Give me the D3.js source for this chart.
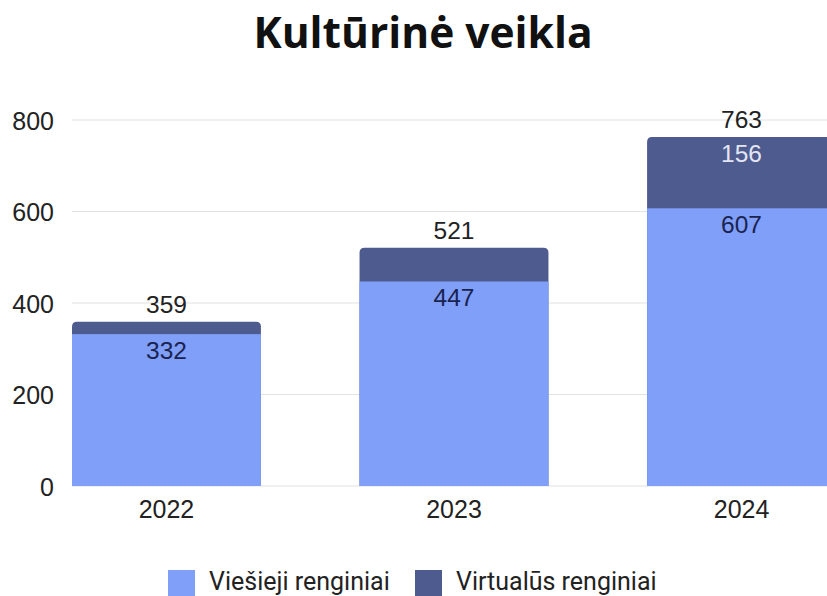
<!DOCTYPE html>
<html>
<head>
<meta charset="utf-8">
<script src="https://cdn.jsdelivr.net/npm/d3@7"></script>
<style>
  body { margin: 0; background: #fff; }
  svg { display: block; }
</style>
</head>
<body>
<svg id="chart" width="827" height="596"></svg>
<script>
// data
var years = ["2022", "2023", "2024"];
var viesieji = [332, 447, 607];
var virtualus = [27, 74, 156];
var yTicks = [0, 200, 400, 600, 800];
var seriesNames = ["Viešieji renginiai", "Virtualūs renginiai"];
var seriesColors = ["#7f9ff9", "#4d5b8e"];

var svg = d3.select("#chart");
var width = +svg.attr("width");
var height = +svg.attr("height");
var margin = { top: 120, left: 72, bottom: 110 };

var rows = years.map(function (y, i) {
  return { year: y, a: viesieji[i], b: virtualus[i], total: viesieji[i] + virtualus[i] };
});

// scales
var x = d3.scaleBand()
  .domain(years)
  .range([margin.left, 836])
  .paddingInner(0.343)
  .paddingOuter(0);

var y = d3.scaleLinear()
  .domain([0, 800])
  .range([486, 120]);

// title
svg.append("text")
  .attr("x", 423)
  .attr("y", 48)
  .attr("text-anchor", "middle")
  .attr("font-family", "Open Sans")
  .attr("font-weight", "bold")
  .attr("font-size", "42.5px")
  .attr("fill", "#111")
  .text("Kultūrinė veikla");

// grid
svg.append("g")
  .selectAll("line")
  .data(yTicks)
  .enter().append("line")
  .attr("x1", margin.left)
  .attr("x2", width)
  .attr("y1", function (d) { return y(d); })
  .attr("y2", function (d) { return y(d); })
  .attr("stroke", "#e2e2e2")
  .attr("stroke-width", 1.2);

// y axis labels
var yAxis = d3.axisLeft(y).tickValues(yTicks).tickSize(0).tickPadding(0);
svg.append("g")
  .attr("transform", "translate(54,0)")
  .call(yAxis)
  .call(function (g) { g.select(".domain").remove(); })
  .selectAll("text")
  .attr("font-family", "Liberation Sans")
  .attr("font-size", "25px")
  .attr("fill", "#222")
  .attr("dy", "0.36em");

// x axis labels
var xAxis = d3.axisBottom(x).tickSize(0).tickPadding(0);
svg.append("g")
  .attr("transform", "translate(0,518)")
  .call(xAxis)
  .call(function (g) { g.select(".domain").remove(); })
  .selectAll("text")
  .attr("font-family", "Liberation Sans")
  .attr("font-size", "25px")
  .attr("fill", "#222")
  .attr("dy", "0");

// rounded top path for the stack
function topRounded(x0, y0, w, h, r) {
  return "M" + x0 + "," + (y0 + h) +
    "V" + (y0 + r) +
    "Q" + x0 + "," + y0 + " " + (x0 + r) + "," + y0 +
    "H" + (x0 + w - r) +
    "Q" + (x0 + w) + "," + y0 + " " + (x0 + w) + "," + (y0 + r) +
    "V" + (y0 + h) + "Z";
}

// dark (upper) segment, drawn with rounded top
svg.append("g")
  .selectAll("path")
  .data(rows)
  .enter().append("path")
  .attr("fill", seriesColors[1])
  .attr("d", function (d) {
    return topRounded(x(d.year), y(d.total), x.bandwidth(), y(0) - y(d.total), 5);
  });

// light (lower) segment
svg.append("g")
  .selectAll("rect")
  .data(rows)
  .enter().append("rect")
  .attr("fill", seriesColors[0])
  .attr("x", function (d) { return x(d.year); })
  .attr("y", function (d) { return y(d.a); })
  .attr("width", x.bandwidth())
  .attr("height", function (d) { return y(0) - y(d.a); });

// labels
var labels = svg.append("g")
  .attr("font-family", "Liberation Sans")
  .attr("font-size", "24.5px")
  .attr("text-anchor", "middle");

labels.selectAll(".lblA")
  .data(rows)
  .enter().append("text")
  .attr("class", "lblA")
  .attr("x", function (d) { return x(d.year) + x.bandwidth() / 2; })
  .attr("y", function (d) { return y(d.a) + 25; })
  .attr("fill", "#1a2350")
  .text(function (d) { return d.a; });

labels.selectAll(".lblB")
  .data(rows.filter(function (d) { return y(0) - y(d.b) > 50; }))
  .enter().append("text")
  .attr("class", "lblB")
  .attr("x", function (d) { return x(d.year) + x.bandwidth() / 2; })
  .attr("y", function (d) { return y(d.total) + 25; })
  .attr("fill", "#e3e6f2")
  .text(function (d) { return d.b; });

labels.selectAll(".lblT")
  .data(rows)
  .enter().append("text")
  .attr("class", "lblT")
  .attr("x", function (d) { return x(d.year) + x.bandwidth() / 2; })
  .attr("y", function (d) { return y(d.total) - 9; })
  .attr("fill", "#222")
  .text(function (d) { return d.total; });

// legend
var legendX = [168, 415];
var legend = svg.append("g");
seriesNames.forEach(function (name, i) {
  legend.append("rect")
    .attr("x", legendX[i])
    .attr("y", 570)
    .attr("width", 27)
    .attr("height", 27)
    .attr("fill", seriesColors[i]);
  legend.append("text")
    .attr("x", legendX[i] + 41)
    .attr("y", 590)
    .attr("font-family", "Roboto")
    .attr("font-size", "25px")
    .attr("fill", "#222")
    .text(name);
});
</script>
</body>
</html>
